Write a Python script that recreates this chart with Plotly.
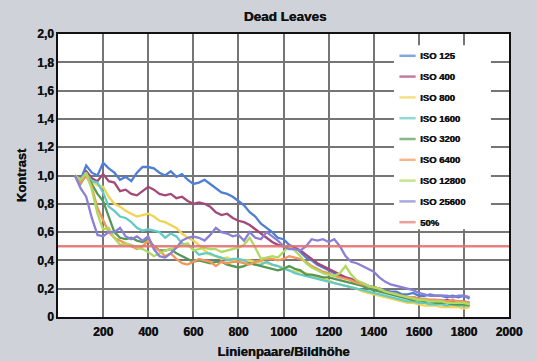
import plotly.graph_objects as go

# Line pairs per picture height (shared sampling grid for all ISO curves)
lp = [75, 100, 125, 150, 175, 200, 225, 250, 275, 300, 325, 350, 375, 400, 425,
      450, 475, 500, 525, 550, 575, 600, 625, 650, 675, 700, 725, 750, 775, 800,
      825, 850, 875, 900, 925, 950, 975, 1000, 1025, 1050, 1075, 1100, 1125, 1150,
      1175, 1200, 1225, 1250, 1275, 1300, 1325, 1350, 1375, 1400, 1425, 1450, 1475,
      1500, 1525, 1550, 1575, 1600, 1625, 1650, 1675, 1700, 1725, 1750, 1775, 1800,
      1825]

iso125 = [1.00, 0.97, 1.07, 1.02, 1.00, 1.09, 1.05, 1.02, 0.97, 0.99, 0.96, 1.02,
          1.06, 1.06, 1.05, 1.02, 1.00, 1.03, 0.99, 1.01, 0.97, 0.94, 0.95, 0.97,
          0.94, 0.91, 0.88, 0.87, 0.85, 0.82, 0.79, 0.74, 0.71, 0.66, 0.63, 0.60,
          0.56, 0.55, 0.51, 0.49, 0.46, 0.42, 0.40, 0.37, 0.35, 0.33, 0.31, 0.29,
          0.28, 0.26, 0.24, 0.23, 0.22, 0.21, 0.20, 0.19, 0.18, 0.18, 0.16, 0.16,
          0.17, 0.15, 0.15, 0.16, 0.15, 0.15, 0.14, 0.15, 0.14, 0.15, 0.13]

iso400 = [1.00, 0.94, 1.03, 0.98, 0.96, 1.01, 0.96, 0.95, 0.89, 0.90, 0.87, 0.86,
          0.89, 0.92, 0.90, 0.87, 0.86, 0.87, 0.84, 0.85, 0.82, 0.80, 0.81, 0.80,
          0.78, 0.74, 0.72, 0.73, 0.70, 0.68, 0.67, 0.65, 0.62, 0.59, 0.56, 0.53,
          0.51, 0.50, 0.50, 0.49, 0.47, 0.44, 0.41, 0.38, 0.36, 0.34, 0.32, 0.30,
          0.28, 0.27, 0.25, 0.24, 0.22, 0.21, 0.20, 0.18, 0.17, 0.16, 0.15, 0.14,
          0.14, 0.13, 0.12, 0.12, 0.12, 0.11, 0.12, 0.11, 0.11, 0.11, 0.10]

iso800 = [1.00, 0.95, 1.01, 0.96, 0.93, 0.92, 0.85, 0.80, 0.78, 0.75, 0.73, 0.71,
          0.72, 0.73, 0.71, 0.68, 0.67, 0.65, 0.63, 0.59, 0.56, 0.54, 0.51, 0.47,
          0.44, 0.43, 0.41, 0.42, 0.40, 0.39, 0.40, 0.40, 0.39, 0.39, 0.38, 0.37,
          0.36, 0.35, 0.33, 0.32, 0.32, 0.31, 0.29, 0.28, 0.27, 0.26, 0.24, 0.23,
          0.22, 0.21, 0.20, 0.18, 0.17, 0.16, 0.15, 0.14, 0.13, 0.12, 0.11, 0.10,
          0.10, 0.09, 0.08, 0.08, 0.08, 0.07, 0.07, 0.07, 0.07, 0.06, 0.07]

iso1600 = [1.00, 0.94, 1.01, 0.96, 0.95, 0.88, 0.78, 0.75, 0.71, 0.70, 0.67, 0.63,
           0.61, 0.62, 0.61, 0.60, 0.56, 0.59, 0.57, 0.52, 0.51, 0.48, 0.44, 0.45,
           0.45, 0.43, 0.42, 0.40, 0.41, 0.41, 0.40, 0.38, 0.37, 0.37, 0.39, 0.37,
           0.36, 0.34, 0.33, 0.31, 0.30, 0.29, 0.28, 0.27, 0.26, 0.25, 0.24, 0.23,
           0.22, 0.21, 0.20, 0.19, 0.18, 0.17, 0.16, 0.15, 0.14, 0.13, 0.12, 0.11,
           0.11, 0.10, 0.10, 0.09, 0.09, 0.09, 0.08, 0.09, 0.08, 0.08, 0.08]

iso3200 = [1.00, 0.95, 1.00, 0.94, 0.87, 0.82, 0.71, 0.60, 0.56, 0.55, 0.56, 0.54,
           0.53, 0.55, 0.50, 0.47, 0.47, 0.48, 0.45, 0.43, 0.41, 0.39, 0.40, 0.39,
           0.38, 0.39, 0.39, 0.37, 0.36, 0.35, 0.36, 0.38, 0.37, 0.36, 0.35, 0.34,
           0.33, 0.34, 0.36, 0.34, 0.33, 0.30, 0.30, 0.29, 0.28, 0.28, 0.27, 0.26,
           0.25, 0.24, 0.23, 0.22, 0.20, 0.19, 0.18, 0.17, 0.16, 0.15, 0.14, 0.13,
           0.12, 0.12, 0.11, 0.11, 0.10, 0.10, 0.10, 0.09, 0.09, 0.09, 0.08]

iso6400 = [1.00, 0.95, 1.00, 0.92, 0.77, 0.68, 0.60, 0.56, 0.54, 0.52, 0.50, 0.48,
           0.50, 0.54, 0.49, 0.47, 0.43, 0.45, 0.41, 0.38, 0.37, 0.39, 0.41, 0.40,
           0.39, 0.36, 0.39, 0.38, 0.39, 0.39, 0.38, 0.37, 0.39, 0.40, 0.41, 0.41,
           0.40, 0.41, 0.43, 0.42, 0.41, 0.39, 0.36, 0.34, 0.32, 0.31, 0.29, 0.28,
           0.27, 0.26, 0.24, 0.23, 0.22, 0.21, 0.20, 0.18, 0.17, 0.16, 0.15, 0.14,
           0.14, 0.13, 0.13, 0.12, 0.12, 0.12, 0.11, 0.12, 0.11, 0.11, 0.10]

iso12800 = [1.00, 0.97, 1.02, 0.90, 0.73, 0.62, 0.63, 0.56, 0.51, 0.52, 0.51, 0.49,
            0.48, 0.46, 0.43, 0.45, 0.47, 0.48, 0.49, 0.51, 0.52, 0.47, 0.48, 0.49,
            0.48, 0.48, 0.46, 0.47, 0.48, 0.49, 0.51, 0.56, 0.49, 0.41, 0.42, 0.43,
            0.42, 0.46, 0.50, 0.47, 0.43, 0.38, 0.35, 0.33, 0.31, 0.30, 0.29, 0.31,
            0.36, 0.30, 0.26, 0.24, 0.22, 0.21, 0.20, 0.18, 0.17, 0.16, 0.15, 0.14,
            0.13, 0.12, 0.12, 0.11, 0.11, 0.11, 0.10, 0.10, 0.10, 0.10, 0.09]

iso25600 = [1.00, 0.91, 0.85, 0.70, 0.58, 0.57, 0.60, 0.60, 0.63, 0.57, 0.55, 0.57,
            0.54, 0.57, 0.48, 0.43, 0.42, 0.45, 0.49, 0.54, 0.56, 0.57, 0.56, 0.54,
            0.58, 0.63, 0.60, 0.59, 0.57, 0.58, 0.54, 0.60, 0.56, 0.55, 0.60, 0.57,
            0.54, 0.50, 0.48, 0.48, 0.47, 0.50, 0.55, 0.54, 0.55, 0.53, 0.55, 0.50,
            0.43, 0.39, 0.38, 0.36, 0.34, 0.32, 0.28, 0.25, 0.23, 0.22, 0.21, 0.20,
            0.19, 0.17, 0.16, 0.15, 0.15, 0.15, 0.15, 0.14, 0.15, 0.15, 0.14]

# 50 % reference level across the whole axis
ref_x = [0, 2000]
ref_y = [0.5, 0.5]

series_names = ["ISO 125", "ISO 400", "ISO 800", "ISO 1600", "ISO 3200",
                "ISO 6400", "ISO 12800", "ISO 25600"]
series_values = [iso125, iso400, iso800, iso1600, iso3200, iso6400, iso12800, iso25600]
series_colors = ["#4f7fd4", "#a34878", "#f2d352", "#62cbc5", "#559855",
                 "#f39659", "#b0d962", "#8a80d6"]
ref_name = "50%"
ref_color = "#e57474"

y_ticks = [0, 0.2, 0.4, 0.6, 0.8, 1.0, 1.2, 1.4, 1.6, 1.8, 2.0]
y_labels = ["0", "0,2", "0,4", "0,6", "0,8", "1,0", "1,2", "1,4", "1,6", "1,8", "2,0"]
x_ticks = [200, 400, 600, 800, 1000, 1200, 1400, 1600, 1800, 2000]

bold = dict(family="Liberation Sans, Arial, sans-serif", weight="bold", color="#111111",
            shadow="0.45px 0px 0px #111111")

fig = go.Figure()
for name, vals, col in zip(series_names, series_values, series_colors):
    fig.add_trace(go.Scatter(x=lp, y=vals, mode="lines", name=name,
                             line=dict(color=col, width=2.3), showlegend=False))
fig.add_trace(go.Scatter(x=ref_x, y=ref_y, mode="lines", name=ref_name,
                         line=dict(color=ref_color, width=2.5), opacity=0.9,
                         showlegend=False))

# Legend panel drawn in paper coordinates
shapes = [dict(type="rect", xref="paper", yref="paper", layer="above",
               x0=0.745, x1=0.96, y0=0.31, y1=0.96,
               fillcolor="white", line=dict(width=0))]
annotations = []
entries = list(zip(series_names, series_colors)) + [(ref_name, ref_color)]
top, step = 0.923, 0.0735
for i, (name, col) in enumerate(entries):
    yy = top - i * step
    shapes.append(dict(type="line", xref="paper", yref="paper", layer="above",
                       x0=0.757, x1=0.793, y0=yy, y1=yy,
                       line=dict(color=col, width=2.5), opacity=0.7))
    annotations.append(dict(xref="paper", yref="paper", x=0.798, y=yy,
                            xanchor="left", yanchor="middle", showarrow=False,
                            text=name, font=dict(bold, size=9.5)))

fig.update_layout(
    width=537, height=361,
    margin=dict(l=58, r=28, t=34, b=44),
    paper_bgcolor="#cfd3d9",
    plot_bgcolor="white",
    title=dict(text="Dead Leaves", x=0.531, xanchor="center", y=0.955, yanchor="middle",
               font=dict(bold, size=13.5)),
    shapes=shapes,
    annotations=annotations,
    showlegend=False,
)
fig.update_xaxes(range=[0, 2000], tickvals=x_ticks, ticks="", ticklabelstandoff=3,
                 automargin=False,
                 showgrid=True, gridcolor="#757575", gridwidth=2,
                 showline=True, linecolor="#111111", linewidth=1.5, mirror=True,
                 zeroline=False, tickfont=dict(bold, size=12),
                 title=dict(text="Linienpaare/Bildhöhe", font=dict(bold, size=13),
                            standoff=9))
fig.update_yaxes(range=[0, 2.0], tickvals=y_ticks, ticktext=y_labels, ticks="",
                 automargin=False,
                 showgrid=True, gridcolor="#757575", gridwidth=2,
                 showline=True, linecolor="#111111", linewidth=1.5, mirror=True,
                 zeroline=False, tickfont=dict(bold, size=12),
                 title=dict(text="Kontrast", font=dict(bold, size=13), standoff=8))

fig.write_html("out.html")
